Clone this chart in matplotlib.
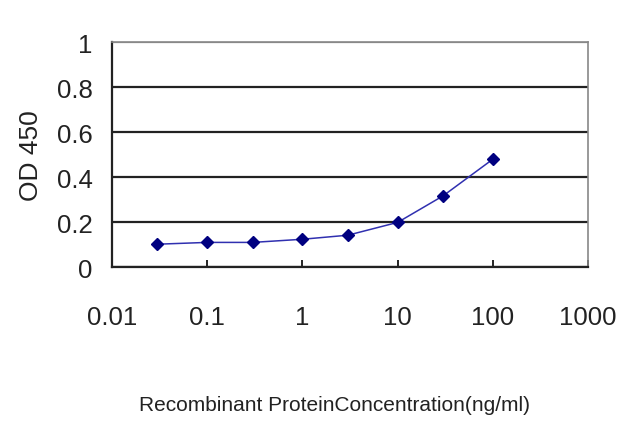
import numpy as np
import matplotlib.pyplot as plt
from matplotlib.ticker import FixedLocator, NullLocator

# --- datos ---
conc = [0.03, 0.1, 0.3, 1, 3, 10, 30, 100]          # ng/ml
od450 = [0.102, 0.11, 0.11, 0.124, 0.142, 0.199, 0.317, 0.48]
xticks = [0.01, 0.1, 1, 10, 100, 1000]
xtick_labels = ['0.01', '0.1', '1', '10', '100', '1000']
yticks = [0, 0.2, 0.4, 0.6, 0.8, 1]
ytick_labels = ['0', '0.2', '0.4', '0.6', '0.8', '1']

fam = ['Liberation Sans Narrow', 'Liberation Sans', 'DejaVu Sans']

fig = plt.figure(figsize=(6.4, 4.27), dpi=100)
ax = fig.add_axes([0.175, 0.372, 0.744, 0.527])

ax.plot(conc, od450, '-', color='#3030b0', linewidth=1.1)
ax.plot(conc, od450, 'D', color='#000080', markersize=6, linestyle='none')

ax.set_xscale('log')
ax.set_xlim(0.01, 1000)
ax.set_ylim(0, 1)

ax.xaxis.set_major_locator(FixedLocator(xticks))
ax.xaxis.set_minor_locator(NullLocator())
ax.set_xticklabels(xtick_labels, family=fam, fontsize=18.5, color='#222222')
ax.set_yticks(yticks)
ax.set_yticklabels(ytick_labels, family=fam, fontsize=18.5, color='#222222')
ax.tick_params(axis='x', direction='in', length=5, width=1.2, pad=27)
ax.tick_params(axis='y', length=0, pad=14)

ax.grid(axis='y', color='#222222', linewidth=1.6)
ax.yaxis.get_gridlines()[-1].set_color('#888888')
ax.set_axisbelow(True)

for s in ['left', 'bottom']:
    ax.spines[s].set_color('#222222')
    ax.spines[s].set_linewidth(1.6)
for s in ['top', 'right']:
    ax.spines[s].set_color('#888888')
    ax.spines[s].set_linewidth(1.2)

ax.set_ylabel('OD 450', family=['Liberation Sans', 'DejaVu Sans'], fontsize=19,
              color='#222222', labelpad=10)
fig.text(0.522, 0.05, 'Recombinant ProteinConcentration(ng/ml)', family=fam,
         fontsize=15, color='#222222', ha='center', va='center')

plt.savefig('out.png', dpi=100)
